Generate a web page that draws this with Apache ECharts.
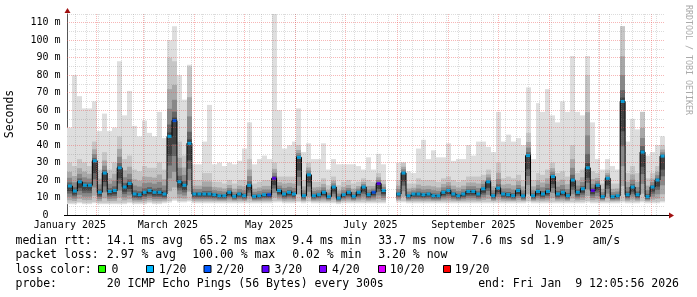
<!DOCTYPE html>
<html><head><meta charset="utf-8">
<script src="https://cdn.jsdelivr.net/npm/echarts@6/dist/echarts.min.js"></script>
<style>html,body{margin:0;padding:0;background:#fff;}#c{width:697px;height:297px;}</style>
</head><body><div id="c"></div>
<script>
// ---------- data ----------
const dates = [
'2025-01-16','2025-01-19','2025-01-22','2025-01-25','2025-01-28','2025-01-31','2025-02-03','2025-02-06','2025-02-09','2025-02-12',
'2025-02-15','2025-02-18','2025-02-21','2025-02-24','2025-02-27','2025-03-02','2025-03-05','2025-03-08','2025-03-11','2025-03-14',
'2025-03-17','2025-03-20','2025-03-23','2025-03-26','2025-03-29','2025-04-01','2025-04-04','2025-04-07','2025-04-10','2025-04-13',
'2025-04-16','2025-04-19','2025-04-22','2025-04-25','2025-04-28','2025-05-01','2025-05-04','2025-05-07','2025-05-10','2025-05-13',
'2025-05-16','2025-05-19','2025-05-22','2025-05-25','2025-05-28','2025-05-31','2025-06-03','2025-06-06','2025-06-09','2025-06-12',
'2025-06-15','2025-06-18','2025-06-21','2025-06-24','2025-06-27','2025-06-30','2025-07-03','2025-07-06','2025-07-09','2025-07-12',
'2025-07-15','2025-07-18','2025-07-21','2025-07-24','2025-07-27','2025-07-30','2025-08-02','2025-08-05','2025-08-08','2025-08-11',
'2025-08-14','2025-08-17','2025-08-20','2025-08-23','2025-08-26','2025-08-29','2025-09-01','2025-09-04','2025-09-07','2025-09-10',
'2025-09-13','2025-09-16','2025-09-19','2025-09-22','2025-09-25','2025-09-28','2025-10-01','2025-10-04','2025-10-07','2025-10-10',
'2025-10-13','2025-10-16','2025-10-19','2025-10-22','2025-10-25','2025-10-28','2025-10-31','2025-11-03','2025-11-06','2025-11-09',
'2025-11-12','2025-11-15','2025-11-18','2025-11-21','2025-11-24','2025-11-27','2025-11-30','2025-12-03','2025-12-06','2025-12-09',
'2025-12-12','2025-12-15','2025-12-18','2025-12-21','2025-12-24','2025-12-27','2025-12-30','2026-01-02','2026-01-05','2026-01-08'
];
// median RTT (ms)
const medianRtt = [
16.6,13.7,19,17,17,31,13,24,13.5,14,
27,16,18,12,11.6,13,14,13,13,12,
45,54,19,17,41,12,12,12,12,11.6,
11,11,13,10.7,12,11,17,10.7,11,11.6,
11.6,21,14,12,13,12,33,11,23,11,
11.6,13,10.5,16,9.7,11.6,13,10.7,13,16,
11.6,13,18,14,null,null,12,24,11,12,
12,11.6,12,11,11,13,14,12,11,12,
13.5,13.5,12,15,19,11,15.4,12,11.6,11,
14,10.9,34,11,13.5,12,13.5,22,12,13,
11,20,13,15,27,14,17,10.5,21,10.5,
11,65,11.6,16,11.6,36,10.5,16,20,33.7
];
// bottom of the smoke (fastest pings, ms)
const smokeLow = [
7,7,7.5,7,7,7.5,7,7,7,7,
7,7,7.5,7,7,7,7.5,7,7,7.5,
8,9,8,8,8.5,7.5,7.5,7.5,7.5,7.5,
7.5,7.5,7.5,7.5,7.5,7.5,7.5,7.5,7.5,7.5,
7.5,8,8,7.5,7.5,7.5,8,7.5,8,7.5,
7.5,7.5,7.5,7.5,7,7.5,7.5,7.5,7.5,7.5,
7.5,7.5,7.5,7.5,null,null,8,8,7.5,7.5,
7.5,7.5,7.5,7.5,7.5,7.5,7.5,7.5,7.5,7.5,
7.5,7.5,7.5,7.5,7.5,7.5,7.5,7.5,7.5,7.5,
7.5,7.5,8,7.5,7.5,7.5,7.5,7.5,7.5,7.5,
7.5,7.5,7.5,7.5,8,7.5,7.5,7.5,7.5,7.5,
7.5,8,7.5,7.5,7.5,8,7.5,7.5,7.5,8
];
// top of the dense (darker) smoke, ms
const smokeMid = [
30,28,32,30,28,42,26,36,26,30,
45,32,34,26,25,28,27,27,30,26,
90,88,42,34,85,20,20,24,24,19,
19,18,20,18,20,20,32,18,19,20,
20,30,22,22,22,22,40,20,30,19,
19,21,17,22,17,19,20,18,19,21,
20,19,24,20,null,null,20,30,18,18,
21,20,20,20,19,21,22,20,19,20,
22,22,22,23,26,20,30,21,22,21,
23,20,47,20,24,23,26,30,24,25,
22,40,24,26,80,25,24,18,26,18,
18,108,24,28,24,59,21,24,28,40
];
// top of the light smoke (slowest pings, ms)
const smokeHigh = [
50,80,68,61,61,65,48,58,48,50,
88,57,71,51,45,54,47,45,59,44,
100,108,80,66,86,29,29,42,63,29,
30,28,30,29,31,38,53,29,32,34,
32,115,60,38,40,42,61,36,41,32,
32,41,26,32,29,29,29,29,28,26,
33,26,35,29,null,null,30,30,25,24,
38,43,32,37,33,33,41,31,32,32,
40,34,42,42,39,36,59,42,46,42,
44,40,73,32,64,59,72,57,53,65,
59,91,59,57,91,53,32,26,32,28,
26,108,42,55,49,59,34,36,40,45
];
// loss level index per point (into lossColors)
const lossLevel = [
1,1,1,1,1,1,1,1,1,1,
1,1,1,1,1,1,1,1,1,1,
1,2,1,1,1,1,1,1,1,1,
1,1,1,1,1,1,1,1,1,1,
2,3,1,1,1,1,1,1,1,1,
1,1,1,1,1,1,1,1,1,1,
1,2,3,1,1,1,1,1,1,1,
1,1,1,1,1,1,1,1,1,1,
1,1,1,1,1,1,1,1,1,1,
1,1,1,1,1,1,1,1,1,1,
1,1,1,1,1,3,1,1,1,1,
1,1,1,1,1,1,1,1,1,1
];
const lossColors = ['#26ff00','#00b8ff','#0059ff','#5e00ff','#7e00ff','#dd00ff','#ff0000'];
const lossLabels = ['0','1/20','2/20','3/20','4/20','10/20','19/20'];

const xLabelDates = ['2025-01-16','2025-03-16','2025-05-16','2025-07-16','2025-09-16','2025-11-16'];
const xLabelTexts = ['January 2025','March 2025','May 2025','July 2025','September 2025','November 2025'];
const monthStarts = ['2025-02-01','2025-03-01','2025-04-01','2025-05-01','2025-06-01','2025-07-01','2025-08-01',
  '2025-09-01','2025-10-01','2025-11-01','2025-12-01','2026-01-01'];
const majorY = [10,20,30,40,50,60,70,80,90,100,110];
const minorY = [5,15,25,35,45,55,65,75,85,95,105,115];
const axisStart = '2025-01-14T06:00:00';
const axisEnd = '2026-01-09T12:05:56';
const firstSunday = [2025,0,19];

// ---------- build ----------
const DAY = 86400000;
const toTs = d => +new Date(d.length === 10 ? d + 'T00:00:00' : d);
const ts = dates.map(toTs);
const xMin = toTs(axisStart), xMax = toTs(axisEnd);
const xLabelTs = xLabelDates.map(toTs);

const weekTs = [];
for (let k = 0; ; k++) {
  const t = +new Date(firstSunday[0], firstSunday[1], firstSunday[2] + 7 * k);
  if (t > xMax) break;
  weekTs.push(t);
}
const gridGray = {color: 'rgba(128,128,128,0.28)', width: 1, type: [1, 1]};
const gridRed = {color: 'rgba(235,80,80,0.42)', width: 1, type: [1, 1]};
const gridLines = [];
weekTs.forEach(t => gridLines.push({xAxis: t, lineStyle: gridGray}));
monthStarts.forEach(d => gridLines.push({xAxis: toTs(d), lineStyle: gridRed}));
minorY.forEach(v => gridLines.push({yAxis: v, lineStyle: gridGray}));
majorY.forEach(v => gridLines.push({yAxis: v, lineStyle: gridRed}));

const smokeData = ts.map((t, i) => [t, smokeLow[i], smokeMid[i], smokeHigh[i], medianRtt[i]]);
const medData = ts.map((t, i) => [t, medianRtt[i]]);
const dotData = ts.map((t, i) => medianRtt[i] == null ? null :
  {value: [t, medianRtt[i]], itemStyle: {color: lossColors[lossLevel[i]]}}).filter(Boolean);

function renderSmoke(params, api) {
  const t = api.value(0), lo = api.value(1), mid = api.value(2), hi = api.value(3), med = api.value(4);
  if (isNaN(hi) || isNaN(lo)) return null;
  const w = api.size([3 * DAY, 0])[0];
  const cx = api.coord([t, 0])[0];
  const x0 = Math.round(cx - w / 2), x1 = Math.round(cx + w / 2);
  const band = (a, b, fill) => {
    const ya = api.coord([t, a])[1], yb = api.coord([t, b])[1];
    return {type: 'rect', shape: {x: x0, y: yb, width: x1 - x0, height: ya - yb}, style: {fill}};
  };
  const up = mid - med, dn = med - lo;
  return {type: 'group', children: [
    band(lo - 0.8, hi, '#dedede'),
    band(lo, mid, '#c6c6c6'),
    band(lo + dn * 0.15, med + up * 0.6, '#a8a8a8'),
    band(lo + dn * 0.35, med + up * 0.35, '#888888'),
    band(lo + dn * 0.55, med + up * 0.15, '#646464'),
    band(med - dn * 0.3, med + up * 0.05, '#404040')
  ]};
}

const FONT = "'DejaVu Sans Mono', monospace";
const LF = 11.5;
const graphics = [];
function txt(x, y, s, opt) {
  graphics.push({type: 'text', x: x, y: y, silent: true,
    style: Object.assign({text: s, font: LF + 'px ' + FONT, fill: '#000', textAlign: 'left', textVerticalAlign: 'middle'}, opt || {})});
}
const L1 = 241.2, L2 = 255.4, L3 = 269.6, L4 = 283.8;
[['median rtt:',16],['14.1 ms avg',107.3],['65.2 ms max',200],['9.4 ms min',292.7],['33.7 ms now',378.7],
 ['7.6 ms sd',472],['1.9',543.7],['am/s',593]].forEach(p => txt(p[1] - 0.5, L1, p[0]));
[['packet loss:',16],['2.97 % avg',107.3],['100.00 % max',192.7],['0.02 % min',292.7],['3.20 % now',378.7]]
  .forEach(p => txt(p[1] - 0.5, L2, p[0]));
txt(15.5, L3, 'loss color:');
const boxX = [98, 146, 203.5, 261.5, 319, 378, 443];
const labX = [112, 159.3, 216.7, 275, 332.5, 390.3, 455.3];
lossColors.forEach((c, i) => {
  graphics.push({type: 'rect', silent: true, shape: {x: boxX[i] + 0.5, y: 265.5, width: 7, height: 7},
    style: {fill: c, stroke: '#000', lineWidth: 1}});
  txt(labX[i] - 0.5, L3, lossLabels[i]);
});
txt(15.5, L4, 'probe:');
txt(106.8, L4, '20 ICMP Echo Pings (56 Bytes) every 300s');
txt(478.2, L4, 'end: Fri Jan  9 12:05:56 2026');
graphics.push({type: 'text', x: 10, y: 114, rotation: Math.PI / 2, silent: true,
  style: {text: 'Seconds', font: LF + 'px ' + FONT, fill: '#000', textAlign: 'center', textVerticalAlign: 'middle'}});
graphics.push({type: 'text', x: 688, y: 5, rotation: -Math.PI / 2, silent: true,
  style: {text: 'RRDTOOL / TOBI OETIKER', font: '8.3px ' + FONT, fill: '#aaaaaa', textAlign: 'left', textVerticalAlign: 'middle'}});
graphics.push({type: 'line', silent: true, z: 50, shape: {x1: 64, y1: 215.5, x2: 670, y2: 215.5}, style: {stroke: '#000', lineWidth: 1}});
graphics.push({type: 'polygon', silent: true, z: 51, shape: {points: [[674, 215.5], [669, 212.5], [669, 218.5]]}, style: {fill: '#a01010'}});
graphics.push({type: 'polygon', silent: true, z: 51, shape: {points: [[67.5, 8], [64.5, 13], [70.5, 13]]}, style: {fill: '#a01010'}});

const chart = echarts.init(document.getElementById('c'), null, {renderer: 'canvas', width: 697, height: 297});
chart.setOption({
  animation: false,
  backgroundColor: '#ffffff',
  grid: {left: 67, right: 32, top: 14, bottom: 82, containLabel: false},
  xAxis: {
    type: 'time', min: xMin, max: xMax,
    axisLine: {show: true, lineStyle: {color: '#000', width: 1}},
    axisTick: {show: false},
    splitLine: {show: false},
    axisLabel: {show: false}
  },
  yAxis: {
    type: 'value', min: 0, max: 115, interval: 10,
    axisLine: {show: true, lineStyle: {color: '#555', width: 1}},
    axisTick: {show: false},
    splitLine: {show: false},
    axisLabel: {
      margin: 6.5, fontFamily: FONT, fontSize: 10, color: '#000',
      formatter: v => v === 0 ? '0  ' : (v % 10 === 0 ? v + ' m' : '')
    }
  },
  series: [
    {type: 'custom', z: 2, clip: true, renderItem: renderSmoke, data: smokeData, silent: true,
     encode: {x: 0, y: [1, 2, 3, 4]}},
    {type: 'line', z: 3, data: medData, showSymbol: false, lineStyle: {opacity: 0}, silent: true,
     markLine: {silent: true, symbol: ['none', 'none'], label: {show: false}, animation: false, data: gridLines}},
    {type: 'line', z: 4, data: medData, step: 'middle', showSymbol: false, silent: true,
     lineStyle: {color: '#000', width: 1}, connectNulls: false},
    {type: 'scatter', z: 5, data: dotData, symbol: 'rect', symbolSize: [4, 3], silent: true}
  ],
  graphic: graphics
});
// month labels placed through the x scale
xLabelTs.forEach((t, i) => {
  const p = chart.convertToPixel({xAxisIndex: 0, yAxisIndex: 0}, [t, 0]);
  graphics.push({type: 'text', x: p[0], y: p[1] + 10, silent: true,
    style: {text: xLabelTexts[i], font: '10px ' + FONT, fill: '#000', textAlign: 'center', textVerticalAlign: 'middle'}});
});
chart.setOption({graphic: graphics});
</script></body></html>
